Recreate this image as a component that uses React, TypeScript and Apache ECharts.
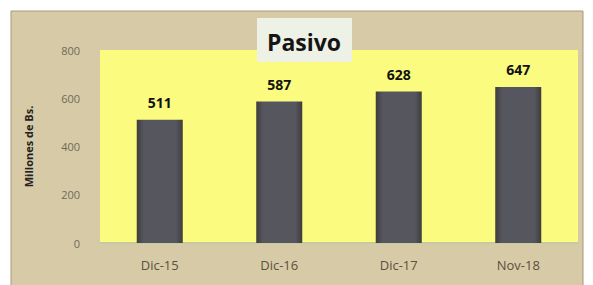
import React, { useEffect, useRef } from "react";
import * as echarts from "echarts";

const categories = ["Dic-15", "Dic-16", "Dic-17", "Nov-18"];
const pasivo = [511, 587, 628, 647];
const yTicks = { min: 0, max: 800, interval: 200 };

export default function App() {
  const ref = useRef<HTMLDivElement>(null);
  useEffect(() => {
    if (!ref.current) return;
    const chart = echarts.init(ref.current, undefined, { renderer: "svg" });
    chart.setOption({
      animation: false,
      backgroundColor: "#ffffff",
      graphic: [
        {
          type: "rect",
          z: -10,
          shape: { x: 11, y: 11, width: 572, height: 276 },
          style: { fill: "#d6cba6", stroke: "#a8997a", lineWidth: 1 },
        },
        {
          type: "rect",
          z: 10,
          shape: { x: 257, y: 18, width: 95, height: 44 },
          style: { fill: "#eef2e6" },
        },
        {
          type: "text",
          z: 11,
          x: 304,
          y: 42,
          style: {
            text: "Pasivo",
            fill: "#151515",
            font: "bold 23px 'Open Sans', sans-serif",
            align: "center",
            verticalAlign: "middle",
          },
        },
      ],
      grid: {
        left: 100,
        top: 50,
        right: 15,
        bottom: 42,
        show: true,
        backgroundColor: "#fbfb80",
        borderWidth: 0,
      },
      xAxis: {
        type: "category",
        data: categories,
        axisLine: { lineStyle: { color: "#c4cba0", width: 2 } },
        axisTick: { show: false },
        axisLabel: {
          color: "#5a5040",
          fontSize: 13,
          fontFamily: "Open Sans",
          margin: 15,
        },
      },
      yAxis: {
        type: "value",
        min: yTicks.min,
        max: yTicks.max,
        interval: yTicks.interval,
        name: "Millones de Bs.",
        nameLocation: "middle",
        nameGap: 66,
        nameRotate: 90,
        nameTextStyle: {
          color: "#222222",
          fontSize: 11,
          fontWeight: "bold",
          fontFamily: "Open Sans",
        },
        axisLine: { show: false },
        axisTick: { show: false },
        splitLine: { show: false },
        axisLabel: {
          color: "#6e6a58",
          fontSize: 11,
          fontFamily: "Open Sans",
          margin: 20,
        },
      },
      series: [
        {
          type: "bar",
          data: pasivo,
          barWidth: "38.5%",
          itemStyle: {
            color: {
              type: "linear",
              x: 0,
              y: 0,
              x2: 1,
              y2: 0,
              colorStops: [
                { offset: 0, color: "#3e3c3c" },
                { offset: 0.15, color: "#56565e" },
                { offset: 0.85, color: "#56565e" },
                { offset: 1, color: "#3e3c3c" },
              ],
            },
          },
          label: {
            show: true,
            position: "top",
            distance: 10,
            color: "#111111",
            fontSize: 14,
            fontWeight: "bold",
            fontFamily: "Open Sans",
          },
        },
      ],
    });
    return () => chart.dispose();
  }, []);
  return (
    <div
      ref={ref}
      style={{ position: "fixed", left: 0, top: 0, width: 593, height: 285 }}
    />
  );
}
